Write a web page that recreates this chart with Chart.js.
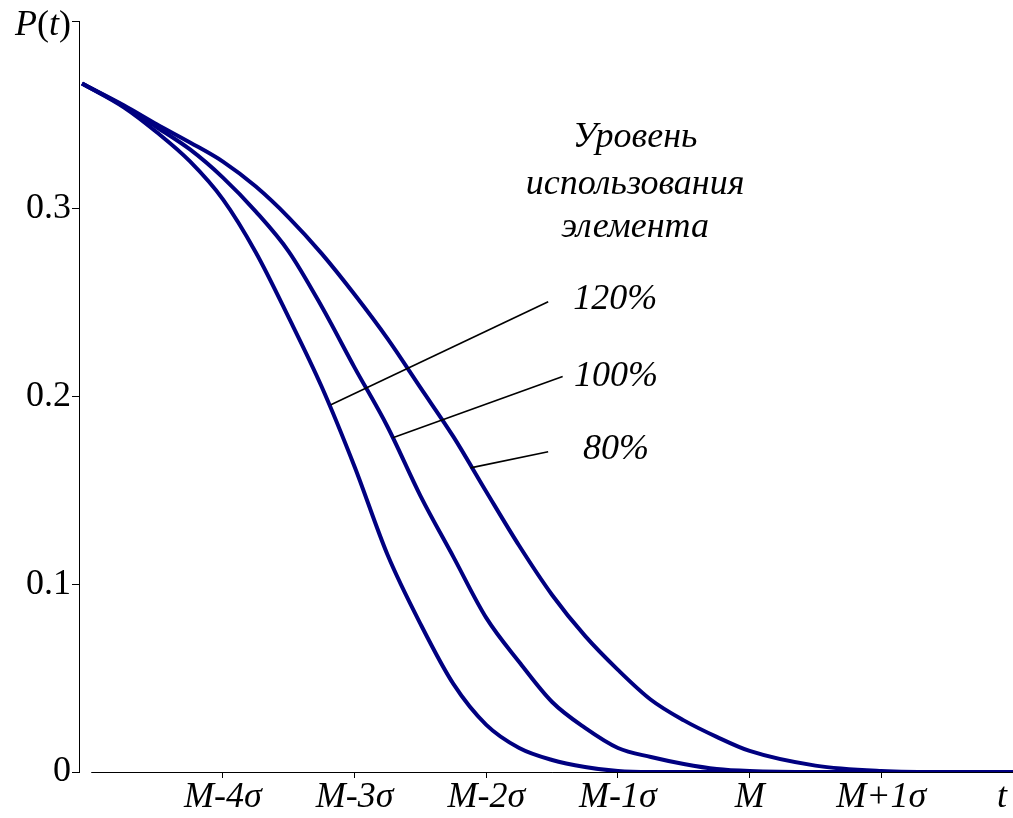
<!DOCTYPE html>
<html lang="ru">
<head>
<meta charset="UTF-8">
<title>P(t)</title>
<script src="https://cdn.jsdelivr.net/npm/chart.js"></script>
<style>
  body { margin: 0; background: #fff; }
  canvas { display: block; }
</style>
</head>
<body>
<canvas id="myChart" width="1013" height="818"></canvas>
<script>
// t measured in sigma from M  (M-4σ = -4 ... M+1σ = 1, t = 2)
var tGrid = [-5.07, -4.75, -4.5, -4.25, -4, -3.75, -3.5, -3.25, -3, -2.75, -2.5, -2.25, -2, -1.75, -1.5, -1.25, -1, -0.75, -0.5, -0.25, 0, 0.5, 1, 1.5, 2]
var p120 = [0.3667, 0.3539, 0.3406, 0.3252, 0.3050, 0.2767, 0.2420, 0.2052, 0.1626, 0.1157, 0.0789, 0.0469, 0.0251, 0.0128, 0.0064, 0.0027, 0.0005, 0, 0, 0, 0, 0, 0, 0, 0]
var p100 = [0.3667, 0.3545, 0.3433, 0.3316, 0.3166, 0.2985, 0.2772, 0.2479, 0.2154, 0.1839, 0.1471, 0.1146, 0.0821, 0.0586, 0.0373, 0.0235, 0.0128, 0.0080, 0.0043, 0.0016, 0.0005, 0, 0, 0, 0]
var p80  = [0.3667, 0.3550, 0.3449, 0.3353, 0.3251, 0.3118, 0.2953, 0.2761, 0.2543, 0.2308, 0.2047, 0.1786, 0.1493, 0.1205, 0.0943, 0.0725, 0.0544, 0.0385, 0.0275, 0.0187, 0.0112, 0.0034, 0.0006, 0, 0]

var xTicks = [-4, -3, -2, -1, 0, 1, 2]
var xTickLabels = ['M-4σ', 'M-3σ', 'M-2σ', 'M-1σ', 'M', 'M+1σ', 't']
var yTicks = [0, 0.1, 0.2, 0.3, 0.4]
var yTickLabels = ['0', '0.1', '0.2', '0.3', 'P(t)']

// leader lines: [label end, point on curve]
var leader120 = [[-1.53, 0.2505], [-3.18, 0.1956]]
var leader100 = [[-1.42, 0.2106], [-2.71, 0.1780]]
var leader80  = [[-1.53, 0.1706], [-2.12, 0.1620]]

var legendTitle = ['Уровень', 'использования', 'элемента']
var seriesNames = ['120%', '100%', '80%']

const serif = "'Liberation Serif', 'Times New Roman', serif"
const curveColor = '#000080'

const toPoints = (ys) => tGrid.map((t, i) => ({ x: t, y: ys[i] }))
const toXY = (pairs) => pairs.map(p => ({ x: p[0], y: p[1] }))

const curve = (label, ys) => ({
    label: label,
    data: toPoints(ys),
    borderColor: curveColor,
    borderWidth: 4,
    pointRadius: 0,
    cubicInterpolationMode: 'monotone',
    fill: false
})
const leader = (pairs) => ({
    data: toXY(pairs),
    borderColor: '#000',
    borderWidth: 1.6,
    pointRadius: 0,
    fill: false
})

const extras = {
    id: 'extras',
    afterDraw(chart) {
        const ctx = chart.ctx
        const xs = chart.scales.x
        const ys = chart.scales.y
        ctx.save()
        // x axis line starts at M-5σ, a little off the y axis
        ctx.strokeStyle = '#000'
        ctx.lineWidth = 1
        ctx.beginPath()
        ctx.moveTo(xs.getPixelForValue(-5), xs.top + 0.5)
        ctx.lineTo(xs.right, xs.top + 0.5)
        ctx.stroke()

        // 't' at the end of the axis
        ctx.fillStyle = '#000'
        ctx.font = 'italic 36px ' + serif
        ctx.textAlign = 'center'
        ctx.textBaseline = 'top'
        ctx.fillText('t', xs.right - 11, xs.top + 8)

        // P(t) at the top of the y axis
        ctx.textBaseline = 'alphabetic'
        ctx.textAlign = 'left'
        const parts = [['P', 'italic'], ['(', 'normal'], ['t', 'italic'], [')', 'normal']]
        let w = 0
        parts.forEach(p => { ctx.font = p[1] + ' 36px ' + serif; w += ctx.measureText(p[0]).width })
        let px = ys.left + 71 - w
        const py = ys.getPixelForValue(0.4) + 14
        parts.forEach(p => {
            ctx.font = p[1] + ' 36px ' + serif
            ctx.fillText(p[0], px, py)
            px += ctx.measureText(p[0]).width
        })

        // legend texts
        ctx.font = 'italic 36px ' + serif
        ctx.textAlign = 'center'
        ctx.textBaseline = 'middle'
        const tx = xs.getPixelForValue(-0.87)
        ;[0.338, 0.3129, 0.290].forEach((v, i) => ctx.fillText(legendTitle[i], tx, ys.getPixelForValue(v)))
        ;[[-1.02, 0.2516], [-1.015, 0.2106], [-1.015, 0.1716]].forEach((p, i) =>
            ctx.fillText(seriesNames[i], xs.getPixelForValue(p[0]), ys.getPixelForValue(p[1])))
        ctx.restore()
    }
}

var ctx = document.getElementById('myChart')
var myChart = new Chart(ctx, {
    type: 'line',
    data: {
        datasets: [
            leader(leader120), leader(leader100), leader(leader80),
            curve('120%', p120), curve('100%', p100), curve('80%', p80)
        ]
    },
    options: {
        responsive: false,
        animation: false,
        devicePixelRatio: 1,
        layout: { padding: { top: 21, right: 0, left: 0, bottom: 0 } },
        plugins: { legend: { display: false }, tooltip: { enabled: false } },
        scales: {
            x: {
                type: 'linear',
                min: -5.093,
                max: 2,
                afterBuildTicks: (s) => { s.ticks = xTicks.map(v => ({ value: v })) },
                afterFit: (s) => { s.height = 46 },
                border: { display: false },
                grid: { drawOnChartArea: false, drawTicks: true, tickLength: 6, color: '#000', lineWidth: 1 },
                ticks: {
                    padding: 0,
                    color: '#000',
                    maxRotation: 0,
                    autoSkip: false,
                    font: { family: serif, size: 36, style: 'italic', lineHeight: 1.1 },
                    callback: (v) => (v === 2 ? '' : xTickLabels[xTicks.indexOf(v)])
                }
            },
            y: {
                min: 0,
                max: 0.4,
                afterBuildTicks: (s) => { s.ticks = yTicks.map(v => ({ value: v })) },
                afterFit: (s) => { s.width = 79 },
                border: { display: true, color: '#000', width: 1 },
                grid: { drawOnChartArea: false, drawTicks: true, tickLength: 7, color: '#000', lineWidth: 1 },
                ticks: {
                    padding: 1,
                    color: '#000',
                    autoSkip: false,
                    font: { family: serif, size: 36, lineHeight: 1.1 },
                    callback: (v) => (v === 0.4 ? '' : yTickLabels[yTicks.indexOf(v)])
                }
            }
        }
    },
    plugins: [extras]
})
</script>
</body>
</html>
